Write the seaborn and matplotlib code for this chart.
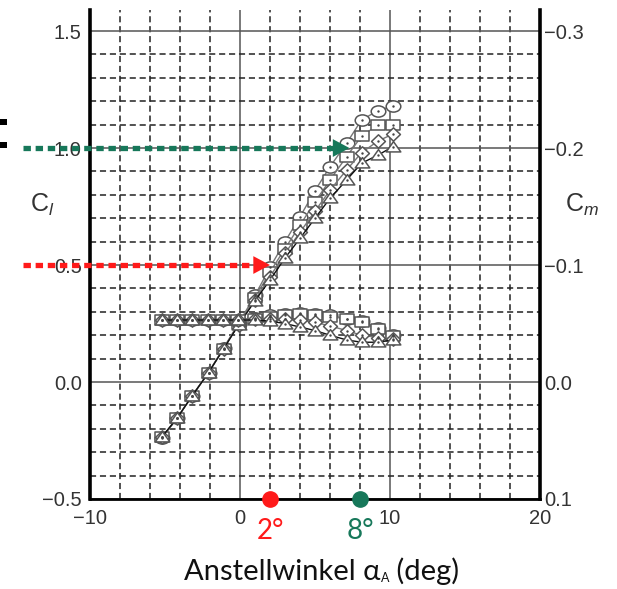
import numpy as np
import pandas as pd
import matplotlib
matplotlib.use("Agg")
import matplotlib.pyplot as plt
import seaborn as sns
from matplotlib.ticker import MultipleLocator, FixedLocator
from matplotlib.path import Path
from matplotlib.transforms import Affine2D, blended_transform_factory
from matplotlib.patches import Rectangle

# ---------------- data ----------------
alpha = [-5.2, -4.2, -3.2, -2.1, -1.1, -0.1, 1.0, 2.0, 3.0, 4.0, 5.0, 6.0, 7.1, 8.1, 9.2, 10.2]

cl_circle   = [-0.240, -0.155, -0.060, 0.040, 0.145, 0.250, 0.370, 0.490, 0.600, 0.706, 0.818, 0.920, 1.020, 1.120, 1.160, 1.180]
cl_square   = [-0.237, -0.155, -0.060, 0.040, 0.143, 0.247, 0.360, 0.470, 0.570, 0.670, 0.770, 0.863, 0.963, 1.050, 1.100, 1.100]
cl_diamond  = [-0.235, -0.155, -0.060, 0.040, 0.142, 0.245, 0.350, 0.450, 0.550, 0.640, 0.730, 0.820, 0.906, 0.980, 1.030, 1.060]
cl_triangle = [-0.234, -0.155, -0.060, 0.040, 0.141, 0.244, 0.347, 0.436, 0.530, 0.614, 0.700, 0.785, 0.863, 0.935, 0.970, 1.006]

cm_circle   = [-0.053, -0.053, -0.053, -0.053, -0.053, -0.053, -0.055, -0.057, -0.058, -0.059, -0.058, -0.057, -0.054, -0.052, -0.046, -0.040]
cm_square   = [-0.053, -0.053, -0.053, -0.053, -0.053, -0.053, -0.054, -0.056, -0.057, -0.058, -0.057, -0.056, -0.054, -0.051, -0.045, -0.039]
cm_diamond  = [-0.053, -0.053, -0.053, -0.053, -0.053, -0.053, -0.054, -0.054, -0.054, -0.053, -0.051, -0.048, -0.044, -0.040, -0.038, -0.037]
cm_triangle = [-0.053, -0.053, -0.053, -0.053, -0.053, -0.053, -0.053, -0.052, -0.050, -0.047, -0.044, -0.040, -0.036, -0.034, -0.034, -0.036]

cl_ticks = [-0.5, 0.0, 0.5, 1.0, 1.5]
cl_ticklabels = ["\u22120.5", "0.0", "0.5", "1.0", "1.5"]
cm_ticks = [0.1, 0.0, -0.1, -0.2, -0.3]
cm_ticklabels = ["0.1", "0.0", "\u22120.1", "\u22120.2", "\u22120.3"]
x_ticks = [-10, 0, 10, 20]
x_ticklabels = ["\u221210", "0", "10", "20"]

marked_alpha = [2, 8]
marked_cl = [0.5, 1.0]
arrow_tip_alpha = [2.0, 7.3]
marked_labels = ["2\u00b0", "8\u00b0"]
marked_colors = ["#ff1a1a", "#17785a"]

xlabel_parts = ["Anstellwinkel \u03b1", "A", " (deg)"]

# ---------------- style ----------------
sns.set_theme(style="white")
plt.rcParams["font.family"] = ["Liberation Sans", "DejaVu Sans"]
plt.rcParams["mathtext.fontset"] = "custom"
plt.rcParams["mathtext.rm"] = "Liberation Sans"
plt.rcParams["mathtext.it"] = "Liberation Sans:italic"
LABEL_FONT = ["Lato", "Open Sans", "DejaVu Sans"]

def stretched(path, sx=1.3):
    return Affine2D().scale(sx, 1.0).transform_path(path)

m_circle = stretched(Path.unit_circle())
m_square = stretched(Path.unit_rectangle().transformed(Affine2D().translate(-0.5, -0.5)))
m_diamond = stretched(Path([(0, 1), (0.8, 0), (0, -1), (-0.8, 0), (0, 1)], closed=True))
m_triangle = stretched(Path([(0, 1), (0.95, -0.75), (-0.95, -0.75), (0, 1)], closed=True))

fig = plt.figure(figsize=(6.17, 5.89), dpi=100)
ax = fig.add_axes([90 / 617, 90 / 589, 450 / 617, 489 / 589])
ax2 = ax.twinx()

ylim = (-0.5, 1.59)
ax.set_xlim(-10, 20)
ax.set_ylim(*ylim)
ax2.set_ylim(-ylim[0] / 5, -ylim[1] / 5)

# grid
ax.xaxis.set_major_locator(FixedLocator(x_ticks))
ax.xaxis.set_minor_locator(MultipleLocator(2))
ax.yaxis.set_major_locator(FixedLocator(cl_ticks))
ax.yaxis.set_minor_locator(MultipleLocator(0.1))
ax.grid(which="major", color="#555555", lw=1.1, ls="-")
ax.grid(which="minor", color="#222222", lw=1.1, ls=(0, (4, 2.5)))
ax.set_axisbelow(True)

ax.set_xticklabels(x_ticklabels)
ax.set_yticklabels(cl_ticklabels)
ax2.yaxis.set_major_locator(FixedLocator(cm_ticks))
ax2.set_yticklabels(cm_ticklabels)

for a in (ax, ax2):
    a.tick_params(which="both", length=0, labelsize=14.5, labelcolor="#333333")
ax.tick_params(axis="x", pad=7)
ax.tick_params(axis="y", pad=6)
ax2.tick_params(axis="y", pad=3)

for s in ["top", "right"]:
    ax.spines[s].set_visible(False)
for s in ["top", "left", "bottom"]:
    ax2.spines[s].set_visible(False)
ax.spines["left"].set_linewidth(2.6)
ax.spines["bottom"].set_linewidth(2.0)
ax2.spines["right"].set_linewidth(2.6)
for a in (ax, ax2):
    for s in a.spines.values():
        s.set_color("black")

# series
markers = [m_circle, m_square, m_diamond, m_triangle]
sizes = [10.5, 9.5, 10, 10.5]
cl_series = [cl_circle, cl_square, cl_diamond, cl_triangle]
cm_series = [cm_circle, cm_square, cm_diamond, cm_triangle]
line_colors = ["#777777", "#777777", "#777777", "#111111"]

for target, series in ((ax, cl_series), (ax2, cm_series)):
    for vals, mk, ms, lc in zip(series, markers, sizes, line_colors):
        sns.lineplot(x=alpha, y=vals, ax=target, color=lc, lw=1.0, marker=mk, ms=ms,
                     mfc="white", mec="#555555", mew=1.1, zorder=3, legend=False)
        sns.scatterplot(x=alpha, y=vals, ax=target, s=3, color="#444444",
                        linewidth=0, zorder=4, legend=False)

ax.set_xlabel("")
ax.set_ylabel("")
ax2.set_ylabel("")

# arrows
for tip, yv, col in zip(arrow_tip_alpha, marked_cl, marked_colors):
    ax.plot([-14.5, tip - 0.9], [yv, yv], color=col, lw=3.8, ls=(0, (1.4, 0.9)),
            solid_capstyle="butt", dash_capstyle="butt", clip_on=False, zorder=8)
    ax.annotate("", xy=(tip, yv), xytext=(tip - 1.0, yv),
                arrowprops=dict(arrowstyle="-|>,head_length=0.6,head_width=0.32",
                                color=col, lw=0, mutation_scale=20, shrinkA=0, shrinkB=0),
                annotation_clip=False, zorder=9)

# marked angles at the bottom
trans = blended_transform_factory(ax.transData, fig.transFigure)
for xv, lab, col in zip(marked_alpha, marked_labels, marked_colors):
    ax.plot([xv], [ylim[0]], "o", ms=11, color=col, clip_on=False, zorder=10)
    ax.text(xv, 1 - 531 / 589, lab, transform=trans, ha="center", va="center",
            fontsize=20, color=col, family=LABEL_FONT)

# axis labels
fig.text(42 / 617, 1 - 205 / 589, "C$_{\\mathit{l}}$", fontsize=18, color="#333333",
         ha="center", va="center")
fig.text(582 / 617, 1 - 205 / 589, "C$_{\\mathit{m}}$", fontsize=18, color="#333333",
         ha="center", va="center")

# x label built from pieces (small subscript A)
renderer = fig.canvas.get_renderer()
base_y = 1 - 580 / 589
t1 = fig.text(0, base_y, xlabel_parts[0], fontsize=21, color="#111111",
              family=LABEL_FONT, va="baseline", ha="left")
t2 = fig.text(0, base_y - 2 / 589, xlabel_parts[1], fontsize=9, color="#111111",
              family=LABEL_FONT, va="baseline", ha="left")
t3 = fig.text(0, base_y, xlabel_parts[2], fontsize=21, color="#111111",
              family=LABEL_FONT, va="baseline", ha="left")
w1 = t1.get_window_extent(renderer).width
w2 = t2.get_window_extent(renderer).width
w3 = t3.get_window_extent(renderer).width
total = w1 + w2 + w3
start = 322 - total / 2
t1.set_x(start / 617)
t2.set_x((start + w1) / 617)
t3.set_x((start + w1 + w2) / 617)

# clipped fragment at the left edge
for ytop in (119, 142):
    fig.add_artist(Rectangle((0, 1 - (ytop + 6) / 589), 7 / 617, 6 / 589,
                             transform=fig.transFigure, color="black", lw=0))

fig.savefig("out.png", dpi=100)
